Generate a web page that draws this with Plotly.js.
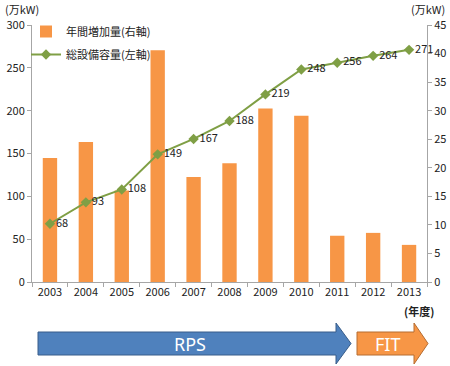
<!DOCTYPE html>
<html><head><meta charset="utf-8">
<script src="https://cdn.plot.ly/plotly-3.0.1.min.js"></script>
<style>html,body{margin:0;padding:0;background:#fff}</style>
</head><body><div id="chart" style="width:450px;height:366px"></div>
<script>
var years = ['2003','2004','2005','2006','2007','2008','2009','2010','2011','2012','2013'];
var annualIncrease = [21.7, 24.5, 16.0, 40.6, 18.4, 20.8, 30.4, 29.1, 8.1, 8.6, 6.5];
var totalCapacity = [68, 93, 108, 149, 167, 188, 219, 248, 256, 264, 271];
var barName = '年間増加量(右軸)';
var lineName = '総設備容量(左軸)';

var W = 450, H = 366, L = 32, R = 23, T = 25, B = 84;
var pw = W - L - R, ph = H - T - B;
function px(x){ return (x - L) / pw; }
function py(y){ return (H - B - y) / ph; }
function arrowPath(x0, xh, xt, yb0, yb1, yh0, yh1){
  var ym = (yb0 + yb1) / 2;
  return 'M' + px(x0) + ',' + py(yb0) + ' L' + px(xh) + ',' + py(yb0) + ' L' + px(xh) + ',' + py(yh0) +
    ' L' + px(xt) + ',' + py(ym) + ' L' + px(xh) + ',' + py(yh1) + ' L' + px(xh) + ',' + py(yb1) +
    ' L' + px(x0) + ',' + py(yb1) + ' Z';
}

var font = 'Noto Sans CJK JP, Noto Sans, sans-serif';
var axisCommon = {showline:true, linecolor:'#A6A6A6', ticks:'outside', ticklen:4, tickcolor:'#A6A6A6',
  showgrid:false, zeroline:false, tickfont:{size:11}, automargin:false};
var data = [
  {type:'bar', x: years, y: annualIncrease, name: barName, yaxis:'y', legendgroup:'a',
   marker:{color:'#F79646'}},
  {type:'scatter', mode:'lines+markers+text', x: years, y: totalCapacity, name: lineName, yaxis:'y2', legendgroup:'b',
   line:{color:'#7F9F45', width:2}, marker:{symbol:'diamond', size:8, color:'#7F9F45'}, cliponaxis:false,
   text: totalCapacity.map(String), textposition:'middle right', textfont:{size:11, color:'#222'}}
];
var layout = {
  width: W, height: H,
  margin:{l:L, r:R, t:T, b:B, autoexpand:false},
  paper_bgcolor:'#fff', plot_bgcolor:'rgba(0,0,0,0)',
  font:{family: font, size:11, color:'#222'},
  bargap: 0.6,
  showlegend: true,
  legend:{x:px(26), y:py(17), xanchor:'left', yanchor:'top', bgcolor:'rgba(0,0,0,0)', font:{size:11},
          itemwidth:30, traceorder:'grouped', tracegroupgap:4},
  xaxis:Object.assign({}, axisCommon, {type:'category', tickson:'boundaries', range:[-0.5, 10.5]}),
  yaxis:Object.assign({}, axisCommon, {side:'right', range:[0,45], dtick:5}),
  yaxis2:Object.assign({}, axisCommon, {side:'left', overlaying:'y', range:[0,300], dtick:50}),
  annotations:[
    {xref:'paper', yref:'paper', x:px(3), y:py(9), xanchor:'left', yanchor:'middle', text:'(万kW)', showarrow:false, font:{size:11}},
    {xref:'paper', yref:'paper', x:px(447), y:py(9), xanchor:'right', yanchor:'middle', text:'(万kW)', showarrow:false, font:{size:11}},
    {xref:'paper', yref:'paper', x:px(436), y:py(311), xanchor:'right', yanchor:'middle', text:'<b>(年度)</b>', showarrow:false, font:{size:11}},
    {xref:'paper', yref:'paper', x:px(190), y:py(344), xanchor:'center', yanchor:'middle', text:'RPS', showarrow:false, font:{size:18, color:'#fff', family:'Noto Sans, sans-serif'}},
    {xref:'paper', yref:'paper', x:px(387), y:py(344), xanchor:'center', yanchor:'middle', text:'FIT', showarrow:false, font:{size:18, color:'#fff', family:'Noto Sans, sans-serif'}}
  ],
  shapes:[
    {type:'path', xref:'paper', yref:'paper', path: arrowPath(38, 336, 351, 332, 355, 323, 364),
     fillcolor:'#4F81BD', line:{color:'#385D8A', width:1}, layer:'below'},
    {type:'path', xref:'paper', yref:'paper', path: arrowPath(357, 414, 428, 332, 355, 323, 364),
     fillcolor:'#F79646', line:{color:'#B66D31', width:1}, layer:'below'}
  ]
};
Plotly.newPlot('chart', data, layout, {displayModeBar:false, staticPlot:true});
</script></body></html>
